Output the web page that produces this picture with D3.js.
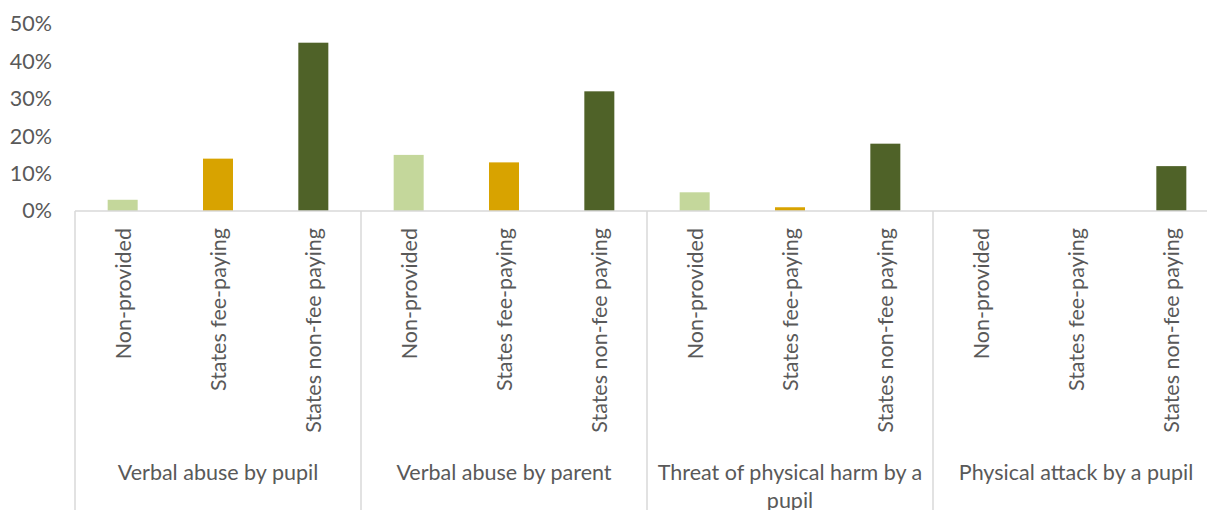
<!DOCTYPE html>
<html>
<head>
<meta charset="utf-8">
<script src="https://cdn.jsdelivr.net/npm/d3@7"></script>
<style>
  body { margin: 0; background: #fff; }
  text { font-family: Lato, "Liberation Sans", sans-serif; fill: #595959; }
</style>
</head>
<body>
<div id="chart"></div>
<script>
// chart data
var groups = ["Verbal abuse by pupil", "Verbal abuse by parent", "Threat of physical harm by a pupil", "Physical attack by a pupil"];
var schoolTypes = ["Non-provided", "States fee-paying", "States non-fee paying"];
var nonProvided = [0.03, 0.15, 0.05, 0];
var feePaying = [0.14, 0.13, 0.01, 0];
var nonFeePaying = [0.45, 0.32, 0.18, 0.12];
var yTicks = [0, 0.1, 0.2, 0.3, 0.4, 0.5];

var colors = ["#c4d79b", "#d8a300", "#4f6228"];

var width = 1207;
var height = 510;
var plotLeft = 75, plotRight = 1219, plotTop = 24, baseline = 211;
var fontSize = '21.5px';

var series = [nonProvided, feePaying, nonFeePaying];

// build flat rows for bars
var rows = [];
groups.forEach(function (g, gi) {
    schoolTypes.forEach(function (t, ti) {
        rows.push({ group: g, type: t, value: series[ti][gi], ti: ti });
    });
});

var svg = d3.select('#chart')
    .append('svg')
    .attr("width", width)
    .attr("height", height);

var xGroup = d3.scaleBand()
    .domain(groups)
    .range([plotLeft, plotRight]);

var xType = d3.scaleBand()
    .domain(schoolTypes)
    .range([0, xGroup.bandwidth()]);

var yScale = d3.scaleLinear()
    .domain([0, 0.5])
    .range([baseline, plotTop]);

var barWidth = 30;

// y axis labels only
var yAxis = d3.axisLeft(yScale)
    .tickValues(yTicks)
    .tickFormat(d3.format(".0%"))
    .tickSize(0)
    .tickPadding(0);

svg.append('g')
    .attr('transform', 'translate(52,0)')
    .call(yAxis)
    .call(function (g) { g.select('.domain').remove(); })
    .selectAll('text')
        .style('font-size', fontSize)
        .style('font-family', 'Lato, sans-serif')
        .attr('fill', '#595959');

// bars
svg.selectAll('rect.bar')
    .data(rows)
    .enter()
    .append('rect')
        .attr('class', 'bar')
        .attr('fill', function (d) { return colors[d.ti]; })
        .attr('x', function (d) {
            return xGroup(d.group) + xType(d.type) + (xType.bandwidth() - barWidth) / 2;
        })
        .attr('width', barWidth)
        .attr('y', function (d) { return yScale(d.value); })
        .attr('height', function (d) { return baseline - yScale(d.value); });

// axis line and group separators
svg.append('line')
    .attr('x1', plotLeft).attr('x2', plotRight)
    .attr('y1', baseline).attr('y2', baseline)
    .attr('stroke', '#d9d9d9').attr('stroke-width', 1.5);

svg.selectAll('line.sep')
    .data(groups.concat(['end']))
    .enter()
    .append('line')
        .attr('class', 'sep')
        .attr('x1', function (d, i) { return plotLeft + i * xGroup.bandwidth(); })
        .attr('x2', function (d, i) { return plotLeft + i * xGroup.bandwidth(); })
        .attr('y1', baseline)
        .attr('y2', height)
        .attr('stroke', '#d9d9d9').attr('stroke-width', 1.5);

// rotated category labels
svg.selectAll('text.cat')
    .data(rows)
    .enter()
    .append('text')
        .attr('class', 'cat')
        .attr('text-anchor', 'end')
        .style('font-size', fontSize)
        .attr('transform', function (d) {
            var cx = xGroup(d.group) + xType(d.type) + xType.bandwidth() / 2;
            return 'translate(' + (cx + 8) + ',' + 228 + ') rotate(-90)';
        })
        .text(function (d) { return d.type; });

// group labels, wrapped when too wide
svg.selectAll('text.grp')
    .data(groups)
    .enter()
    .append('text')
        .attr('class', 'grp')
        .attr('text-anchor', 'middle')
        .style('font-size', fontSize)
        .each(function (d) {
            var el = d3.select(this);
            var cx = xGroup(d) + xGroup.bandwidth() / 2;
            var lines = d.length > 30 ? ["Threat of physical harm by a", "pupil"] : [d];
            lines.forEach(function (ln, i) {
                el.append('tspan')
                    .attr('x', cx)
                    .attr('y', 480 + i * 28)
                    .text(ln);
            });
        });
</script>
</body>
</html>
